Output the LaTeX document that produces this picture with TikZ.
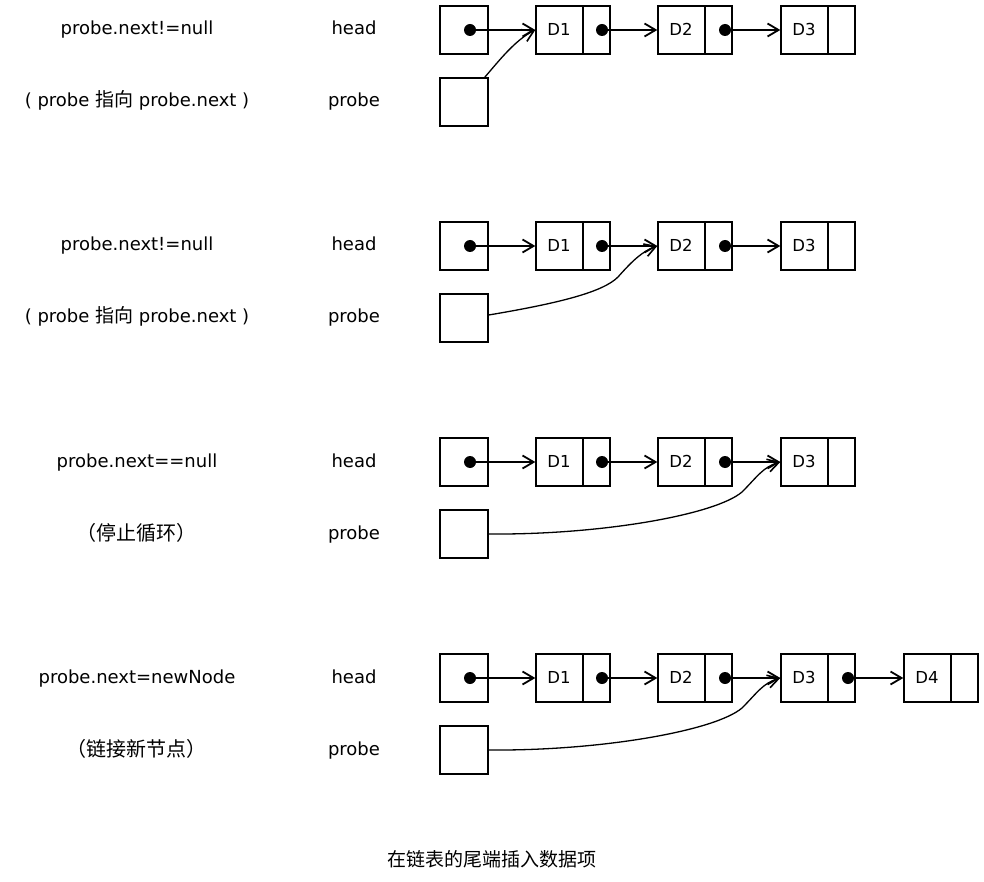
\documentclass[tikz,border=0pt]{standalone}
\usepackage{fontspec}
\setmainfont{DejaVu Sans}
\newfontfamily\cjk{Noto Sans CJK SC}
\usetikzlibrary{arrows.meta}
\tikzset{
  cell/.style={draw, line width=1.4pt, minimum width=48pt, minimum height=48pt, inner sep=0pt},
  dpart/.style={draw, line width=1.4pt, minimum width=47pt, minimum height=48pt, inner sep=0pt},
  ppart/.style={draw, line width=1.4pt, minimum width=27pt, minimum height=48pt, inner sep=0pt},
  dtext/.style={anchor=base, inner sep=0pt, font=\fontsize{16.5}{19}\selectfont},
  dot/.style={circle, fill=black, minimum size=12pt, inner sep=0pt},
  link/.style={-{Straight Barb[length=11pt,width=13pt,line width=1.8pt]}, line width=1.6pt},
  plink/.style={-{Straight Barb[length=11pt,width=13pt,line width=1.6pt]}, line width=1.3pt},
  lbl/.style={anchor=base, inner sep=0pt, font=\fontsize{18}{22}\selectfont},
  cjklbl/.style={anchor=base, inner sep=0pt, font=\cjk\fontsize{20}{22}\selectfont},
  titlelbl/.style={anchor=base, inner sep=0pt, font=\cjk\fontsize{19}{22}\selectfont}
}
\begin{document}
\begin{tikzpicture}[x=1pt,y=-1pt]
\useasboundingbox (0,0) rectangle (984,882);
\foreach \r in {1,...,4}{
  \pgfmathsetmacro\yy{30+216*(\r-1)}
  \node[cell] (h\r) at (464,\yy) {};
  \node[cell] (p\r) at (464,\yy+72) {};
  \node[dot] (hd\r) at (470,\yy) {};
  \node[lbl] (lh\r) at (354,\yy+5) {head};
  \node[lbl] (lp\r) at (354,\yy+77) {probe};
  \foreach \i/\x in {1/536,2/658,3/781}{
    \node[dpart] (d\r\i) at (\x+23.5,\yy) {};
    \node[dtext] (t\r\i) at (\x+23,\yy+5.5) {D\i};
    \node[ppart] (q\r\i) at (\x+60.5,\yy) {};
  }
  \node[dot] (dd\r1) at (602,\yy) {};
  \node[dot] (dd\r2) at (725,\yy) {};
  \draw[link] (hd\r) -- (d\r1.west);
  \draw[link] (dd\r1) -- (d\r2.west);
  \draw[link] (dd\r2) -- (d\r3.west);
}
% row 4 extra node
\node[dpart] (d44) at (927.5,678) {};
\node[dtext] (t44) at (927,683.5) {D4};
\node[ppart] (q44) at (964.5,678) {};
\node[dot] (dd43) at (848,678) {};
\draw[link] (dd43) -- (d44.west);

% probe pointers
\draw[plink] ([xshift=-4pt]p1.north east) .. controls (498,62) and (515,40) .. (d11.west);
\draw[plink] ([yshift=3pt]p2.east) .. controls (560,303) and (603,292) .. (618,277) .. controls (633,260) and (643,251) .. (d22.west);
\draw[plink] (p3.east) .. controls (600,535) and (715,515) .. (742,492) .. controls (757,477) and (763,467) .. (d33.west);
\draw[plink] (p4.east) .. controls (600,751) and (715,731) .. (742,708) .. controls (757,693) and (763,683) .. (d43.west);

% left texts
\node[lbl] (c1a) at (137,35) {probe.next!=null};
\node[lbl] (c1b) at (137,107) {( probe {\cjk\fontsize{19}{22}\selectfont 指向} probe.next )};
\node[lbl] (c2a) at (137,251) {probe.next!=null};
\node[lbl] (c2b) at (137,323) {( probe {\cjk\fontsize{19}{22}\selectfont 指向} probe.next )};
\node[lbl] (c3a) at (137,467) {probe.next==null};
\node[cjklbl] (c3b) at (136,540) {（停止循环）};
\node[lbl] (c4a) at (137,683) {probe.next=newNode};
\node[cjklbl] (c4b) at (136,756) {（链接新节点）};

% caption
\node[titlelbl] (title) at (492,866) {在链表的尾端插入数据项};
\end{tikzpicture}
\end{document}
